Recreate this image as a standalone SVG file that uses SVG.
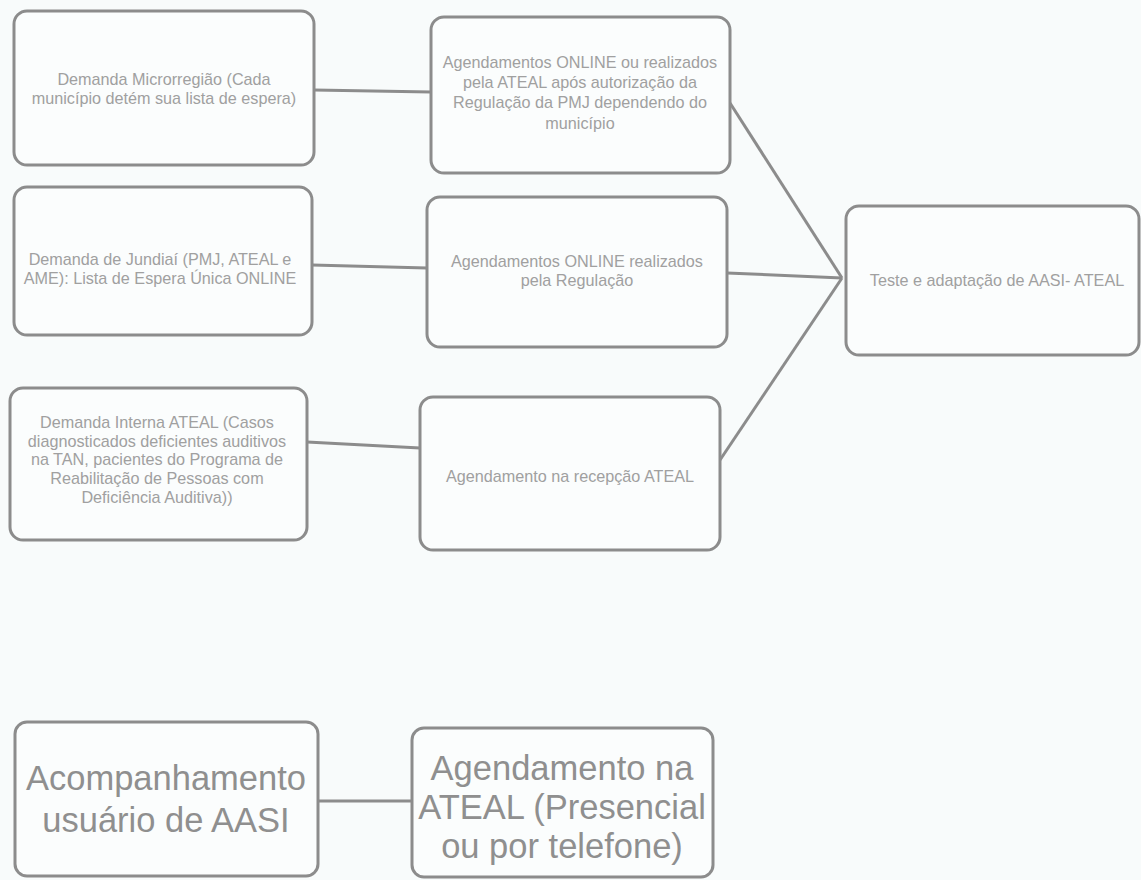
<svg xmlns="http://www.w3.org/2000/svg" width="1141" height="880" viewBox="0 0 1141 880">
<style>
.box{fill:#fbfdfd;stroke:#8c8c8c;stroke-width:3}
.t{font-family:"Liberation Sans",Arial,sans-serif;font-size:16.2px;fill:#a0a0a0;text-anchor:middle}
.big{font-family:"Liberation Sans",Arial,sans-serif;font-size:34.5px;fill:#8f8f8f;text-anchor:middle}
.c{stroke:#8c8c8c;stroke-width:3;fill:none}
</style>
<rect width="1141" height="880" fill="#f8fbfb"/>
<g id="connectors">
<line class="c" x1="314" y1="90" x2="431" y2="92"/>
<line class="c" x1="312" y1="265" x2="427" y2="268"/>
<line class="c" x1="307" y1="442" x2="420" y2="448"/>
<line class="c" x1="730" y1="103" x2="842" y2="278"/>
<line class="c" x1="727" y1="273" x2="842" y2="278"/>
<line class="c" x1="720" y1="460" x2="842" y2="278"/>
<line class="c" x1="318" y1="801" x2="412" y2="801"/>
</g>
<g id="nodeA">
<rect class="box" x="14" y="11" width="300" height="154" rx="13"/>
<text class="t" x="164" y="85">Demanda Microrregião (Cada</text>
<text class="t" x="164" y="104">município detém sua lista de espera)</text>
</g>
<g id="nodeB">
<rect class="box" x="431" y="17" width="299" height="156" rx="13"/>
<text class="t" x="580" y="68">Agendamentos ONLINE ou realizados</text>
<text class="t" x="580" y="88">pela ATEAL após autorização da</text>
<text class="t" x="580" y="108">Regulação da PMJ dependendo do</text>
<text class="t" x="580" y="129">município</text>
</g>
<g id="nodeC">
<rect class="box" x="14" y="187" width="298" height="148" rx="13"/>
<text class="t" x="160" y="265">Demanda de Jundiaí (PMJ, ATEAL e</text>
<text class="t" x="160" y="284">AME): Lista de Espera Única ONLINE</text>
</g>
<g id="nodeD">
<rect class="box" x="427" y="197" width="300" height="150" rx="13"/>
<text class="t" x="577" y="267">Agendamentos ONLINE realizados</text>
<text class="t" x="577" y="286">pela Regulação</text>
</g>
<g id="nodeE">
<rect class="box" x="10" y="388" width="297" height="152" rx="13"/>
<text class="t" x="157" y="428">Demanda Interna ATEAL (Casos</text>
<text class="t" x="157" y="447">diagnosticados deficientes auditivos</text>
<text class="t" x="157" y="465">na TAN, pacientes do Programa de</text>
<text class="t" x="157" y="484">Reabilitação de Pessoas com</text>
<text class="t" x="157" y="503">Deficiência Auditiva))</text>
</g>
<g id="nodeF">
<rect class="box" x="420" y="397" width="300" height="153" rx="13"/>
<text class="t" x="570" y="482">Agendamento na recepção ATEAL</text>
</g>
<g id="nodeG">
<rect class="box" x="846" y="206" width="293" height="149" rx="13"/>
<text class="t" x="997" y="286">Teste e adaptação de AASI- ATEAL</text>
</g>
<g id="nodeH">
<rect class="box" x="15" y="722" width="303" height="154" rx="12"/>
<text class="big" x="166" y="790">Acompanhamento</text>
<text class="big" x="166" y="832">usuário de AASI</text>
</g>
<g id="nodeI">
<rect class="box" x="412" y="728" width="301" height="149" rx="12"/>
<text class="big" x="562" y="780">Agendamento na</text>
<text class="big" x="562" y="819">ATEAL (Presencial</text>
<text class="big" x="562" y="858">ou por telefone)</text>
</g>
</svg>
